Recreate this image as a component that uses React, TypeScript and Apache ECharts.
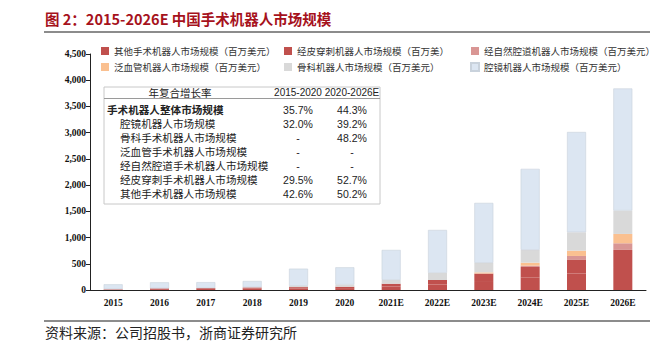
import React, { useEffect, useRef } from "react";
import * as echarts from "echarts";

const categories = ["2015", "2016", "2017", "2018", "2019", "2020", "2021E", "2022E", "2023E", "2024E", "2025E", "2026E"];
const otherVals = [6, 16, 19, 27, 30, 36, 66, 105, 171, 241, 315, 420];
const percVals = [8, 14, 16, 23, 25, 27, 54, 86, 140, 198, 258, 344];
const notesVals = [0, 0, 0, 0, 0, 0, 0, 0, 5, 25, 76, 127];
const vascVals = [0, 0, 0, 0, 0, 0, 0, 0, 20, 57, 101, 178];
const orthoVals = [0, 0, 0, 0, 25, 40, 70, 134, 180, 242, 350, 445];
const lapVals = [95, 117, 115, 122, 327, 330, 574, 820, 1145, 1547, 1913, 2329];

const seriesNames = [
  "其他手术机器人市场规模（百万美元）",
  "经皮穿刺机器人市场规模（百万美）",
  "经自然腔道机器人市场规模（百万美元）",
  "泛血管机器人市场规模（百万美元）",
  "骨科机器人市场规模（百万美元）",
  "腔镜机器人市场规模（百万美元）",
];
const seriesColors = ["#C0504D", "#C0504D", "#D99694", "#FAC090", "#D9D9D9", "#DCE6F2"];

const tableHeader = ["年复合增长率", "2015-2020", "2020-2026E"];
const tableLabels = [
  "手术机器人整体市场规模",
  "腔镜机器人市场规模",
  "骨科手术机器人市场规模",
  "泛血管手术机器人市场规模",
  "经自然腔道手术机器人市场规模",
  "经皮穿刺手术机器人市场规模",
  "其他手术机器人市场规模",
];
const cagr1 = ["35.7%", "32.0%", "-", "-", "-", "29.5%", "42.6%"];
const cagr2 = ["44.3%", "39.2%", "48.2%", "-", "-", "52.7%", "50.2%"];

const CJK = '"Noto Sans CJK SC", "Noto Sans", sans-serif';
const SERIF = '"Liberation Serif", "DejaVu Serif", serif';
const SANS = '"Liberation Sans", Arial, sans-serif';

export default function App() {
  const ref = useRef<HTMLDivElement>(null);
  useEffect(() => {
    if (!ref.current) return;
    const chart = echarts.init(ref.current, null, { renderer: "svg" });
    const data = [otherVals, percVals, notesVals, vascVals, orthoVals, lapVals];

    const tableGraphics: any[] = [];
    tableGraphics.push({
      type: "rect",
      shape: { x: 104, y: 87, width: 276, height: 117 },
      style: { fill: "#fff", stroke: "#c8c8c8", lineWidth: 1 },
      z: 10,
    });
    tableGraphics.push({
      type: "line",
      shape: { x1: 104, y1: 98.5, x2: 380, y2: 98.5 },
      style: { stroke: "#9a9a9a", lineWidth: 1 },
      z: 11,
    });
    const hx = [180, 298, 352];
    tableHeader.forEach((t, i) => {
      tableGraphics.push({
        type: "text",
        x: hx[i],
        y: 92.5,
        style: {
          text: t,
          fill: "#222",
          font: `${i === 0 ? 10.5 : 10}px ${i === 0 ? CJK : SANS}`,
          lineHeight: 11,
          align: "center",
          verticalAlign: "middle",
        },
        z: 12,
      });
    });
    tableLabels.forEach((t, r) => {
      const y = 109.5 + r * 14;
      tableGraphics.push({
        type: "text",
        x: r === 0 ? 107 : 120,
        y,
        style: {
          text: t,
          fill: "#222",
          font: `${r === 0 ? "bold " : ""}10.6px ${CJK}`,
          lineHeight: 12,
          align: "left",
          verticalAlign: "middle",
        },
        z: 12,
      });
      [cagr1[r], cagr2[r]].forEach((v, c) => {
        tableGraphics.push({
          type: "text",
          x: hx[c + 1],
          y,
          style: {
            text: v,
            fill: "#222",
            font: `10.5px ${SANS}`,
            lineHeight: 12,
            align: "center",
            verticalAlign: "middle",
          },
          z: 12,
        });
      });
    });

    const legendCols = [
      { left: 101, items: [seriesNames[0], seriesNames[3]] },
      { left: 284, items: [seriesNames[1], seriesNames[4]] },
      { left: 470, items: [seriesNames[2], seriesNames[5]] },
    ];

    chart.setOption({
      animation: false,
      backgroundColor: "#fff",
      color: seriesColors,
      legend: legendCols.map((c) => ({
        left: c.left,
        top: 45,
        orient: "vertical",
        itemWidth: 8,
        itemHeight: 8,
        itemGap: 4,
        icon: "rect",
        selectedMode: false,
        padding: 0,
        data: c.items,
        textStyle: { fontFamily: CJK, fontSize: 9.5, color: "#333", lineHeight: 12 },
      })),
      grid: { left: 90, right: 17, top: 54, bottom: 60 },
      xAxis: {
        type: "category",
        data: categories,
        axisLine: { lineStyle: { color: "#222", width: 1 } },
        axisTick: { lineStyle: { color: "#222" }, length: 4 },
        axisLabel: {
          fontFamily: SERIF,
          fontWeight: "bold",
          fontSize: 9.5,
          color: "#111",
          margin: 8,
        },
      },
      yAxis: {
        type: "value",
        min: 0,
        max: 4500,
        interval: 500,
        splitLine: { show: false },
        axisLine: { show: true, lineStyle: { color: "#222", width: 1 } },
        axisTick: { show: true, length: 4, lineStyle: { color: "#222" } },
        axisLabel: {
          fontFamily: SERIF,
          fontWeight: "bold",
          fontSize: 9.5,
          color: "#111",
          margin: 4,
          formatter: (v: number) => v.toLocaleString("en-US"),
        },
      },
      series: seriesNames.map((name, i) => ({
        name,
        type: "bar",
        stack: "total",
        barWidth: 19,
        data: data[i],
        itemStyle: {
          color: seriesColors[i],
          borderColor: i === 5 ? "#c9d2dc" : seriesColors[i],
          borderWidth: i === 5 ? 0.6 : 0,
        },
      })),
      graphic: [
        {
          type: "text",
          left: 45,
          top: 11,
          style: {
            text: "图 2：2015-2026E 中国手术机器人市场规模",
            fill: "#A6121C",
            font: `bold 14.5px ${CJK}`,
          },
        },
        {
          type: "line",
          shape: { x1: 44, y1: 32, x2: 650, y2: 32 },
          style: { stroke: "#8c8c8c", lineWidth: 2 },
        },
        {
          type: "line",
          shape: { x1: 44, y1: 321, x2: 650, y2: 321 },
          style: { stroke: "#8c8c8c", lineWidth: 2 },
        },
        {
          type: "text",
          left: 45,
          top: 325,
          style: {
            text: "资料来源：公司招股书，浙商证券研究所",
            fill: "#222",
            font: `14px ${CJK}`,
          },
        },
        ...tableGraphics,
      ],
    });
    return () => chart.dispose();
  }, []);
  return (
    <div
      ref={ref}
      style={{ position: "fixed", left: 0, top: 0, width: 663, height: 350, background: "#fff" }}
    />
  );
}
